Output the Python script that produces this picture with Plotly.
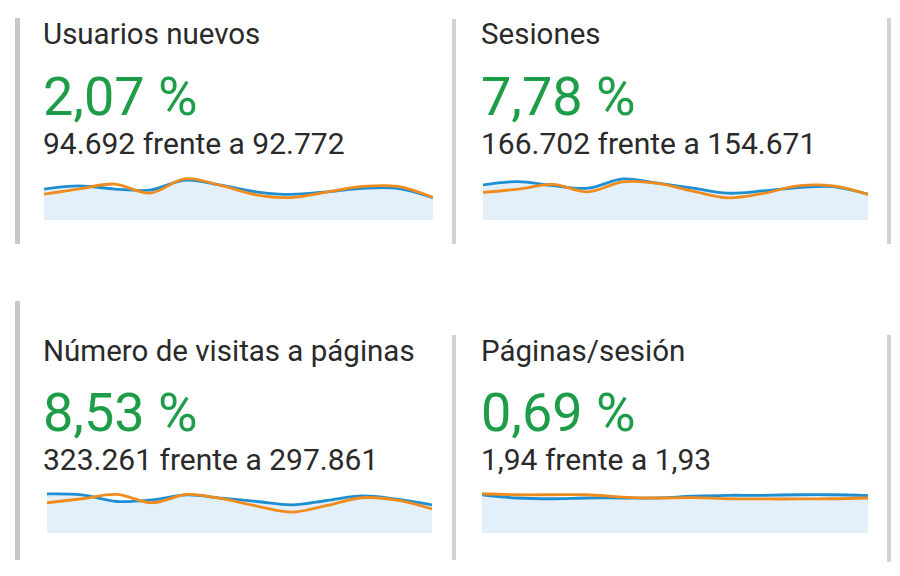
import plotly.graph_objects as go

W, H = 900, 576

months = list(range(1, 13))

# Usuarios nuevos (monthly)
nuevos_actual = [7948, 8795, 7948, 7692, 10256, 8974, 7256, 6589, 7256, 8128, 8128, 5722]
nuevos_previo = [6654, 8026, 9243, 6913, 10615, 8880, 6473, 5773, 7172, 8621, 8621, 5781]
# Sesiones
sesiones_actual = [14746, 16136, 14451, 13355, 17273, 15462, 13355, 11249, 12218, 13608, 14029, 10820]
sesiones_previo = [11579, 12958, 14923, 11829, 16009, 15341, 12122, 9321, 11161, 14337, 14337, 10754]
# Número de visitas a páginas
visitas_actual = [31126, 30334, 25106, 26374, 30334, 27720, 25106, 22414, 25898, 29542, 26928, 22379]
visitas_previo = [24090, 27302, 30755, 24090, 30755, 27302, 21440, 16622, 21922, 28105, 26258, 19220]
# Páginas/sesión
pps_actual = [1.99, 1.82, 1.78, 1.82, 1.82, 1.82, 1.91, 1.96, 1.96, 1.99, 1.99, 1.94]
pps_previo = [2.04, 1.99, 1.99, 1.99, 1.87, 1.82, 1.84, 1.78, 1.77, 1.77, 1.78, 1.82]

titles = ["Usuarios nuevos", "Sesiones", "Número de visitas a páginas", "Páginas/sesión"]
changes = ["2,07 %", "7,78 %", "8,53 %", "0,69 %"]
compare = ["94.692 frente a 92.772", "166.702 frente a 154.671",
           "323.261 frente a 297.861", "1,94 frente a 1,93"]
y_tops = [11565, 18900, 35865, 2.34]

series = [(nuevos_actual, nuevos_previo), (sesiones_actual, sesiones_previo),
          (visitas_actual, visitas_previo), (pps_actual, pps_previo)]

# panel layout in (screen) pixels
text_x = [41, 479, 41, 479]
row_dy = [0, 0, 316, 316]
spark_x = [(44, 433), (483, 868), (47, 432), (482, 868)]
spark_base = [220, 220, 533, 533]
spark_h = 45

BLUE = "#1f8fd2"
ORANGE = "#f08c1e"
FILL = "#e4f0f9"
GREEN = "#1e9d48"
TEXTC = "#2a2a2a"

OFF = 8  # page body margin

def px(x):
    return (x - OFF) / W

def py(y):
    return 1 - (y - OFF) / H

fig = go.Figure()
layout_axes = {}
annotations = []
for i in range(4):
    n = "" if i == 0 else str(i + 1)
    xa, ya = "x" + n, "y" + n
    cur, prev = series[i]
    fig.add_trace(go.Scatter(x=months, y=cur, mode="lines", xaxis=xa, yaxis=ya,
                             line=dict(color=BLUE, width=2.8, shape="spline", smoothing=1.0),
                             fill="tozeroy", fillcolor=FILL, hoverinfo="skip", showlegend=False))
    fig.add_trace(go.Scatter(x=months, y=prev, mode="lines", xaxis=xa, yaxis=ya,
                             line=dict(color=ORANGE, width=2.8, shape="spline", smoothing=1.0),
                             hoverinfo="skip", showlegend=False))
    x0, x1 = spark_x[i]
    b = spark_base[i]
    layout_axes["xaxis" + n] = dict(domain=[px(x0), px(x1)], range=[1, 12], visible=False,
                                    fixedrange=True, anchor=ya)
    layout_axes["yaxis" + n] = dict(domain=[py(b), py(b - spark_h)], range=[0, y_tops[i]],
                                    visible=False, fixedrange=True, anchor=xa)
    dy = row_dy[i]
    tx = px(text_x[i])
    annotations.append(dict(text=titles[i], x=tx, y=py(34.5 + dy), xref="paper", yref="paper",
                            xanchor="left", yanchor="middle", showarrow=False,
                            font=dict(family="Roboto", size=29.5, color=TEXTC)))
    annotations.append(dict(text=changes[i], x=tx, y=py(96.5 + dy), xref="paper", yref="paper",
                            xanchor="left", yanchor="middle", showarrow=False,
                            font=dict(family="Roboto", size=54, color=GREEN)))
    annotations.append(dict(text=compare[i], x=tx, y=py(143.5 + dy), xref="paper", yref="paper",
                            xanchor="left", yanchor="middle", showarrow=False,
                            font=dict(family="Roboto", size=30, color=TEXTC)))

shapes = []
bars = [
    (15, 20, 18, 244, "#c8c8c8"), (15, 20, 301, 560, "#c8c8c8"),
    (452, 456, 19, 244, "#d2d2d2"), (452, 456, 335, 560, "#d2d2d2"),
    (887, 891, 18, 244, "#d2d2d2"), (887, 891, 335, 562, "#d2d2d2"),
]
for x0, x1, y0, y1, c in bars:
    shapes.append(dict(type="rect", xref="paper", yref="paper", x0=px(x0), x1=px(x1),
                       y0=py(y1), y1=py(y0), fillcolor=c, line=dict(width=0), layer="below"))

fig.update_layout(width=W, height=H, margin=dict(l=0, r=0, t=0, b=0),
                  paper_bgcolor="white", plot_bgcolor="rgba(0,0,0,0)",
                  annotations=annotations, shapes=shapes, **layout_axes)

fig.write_html("out.html", config={"displayModeBar": False})
